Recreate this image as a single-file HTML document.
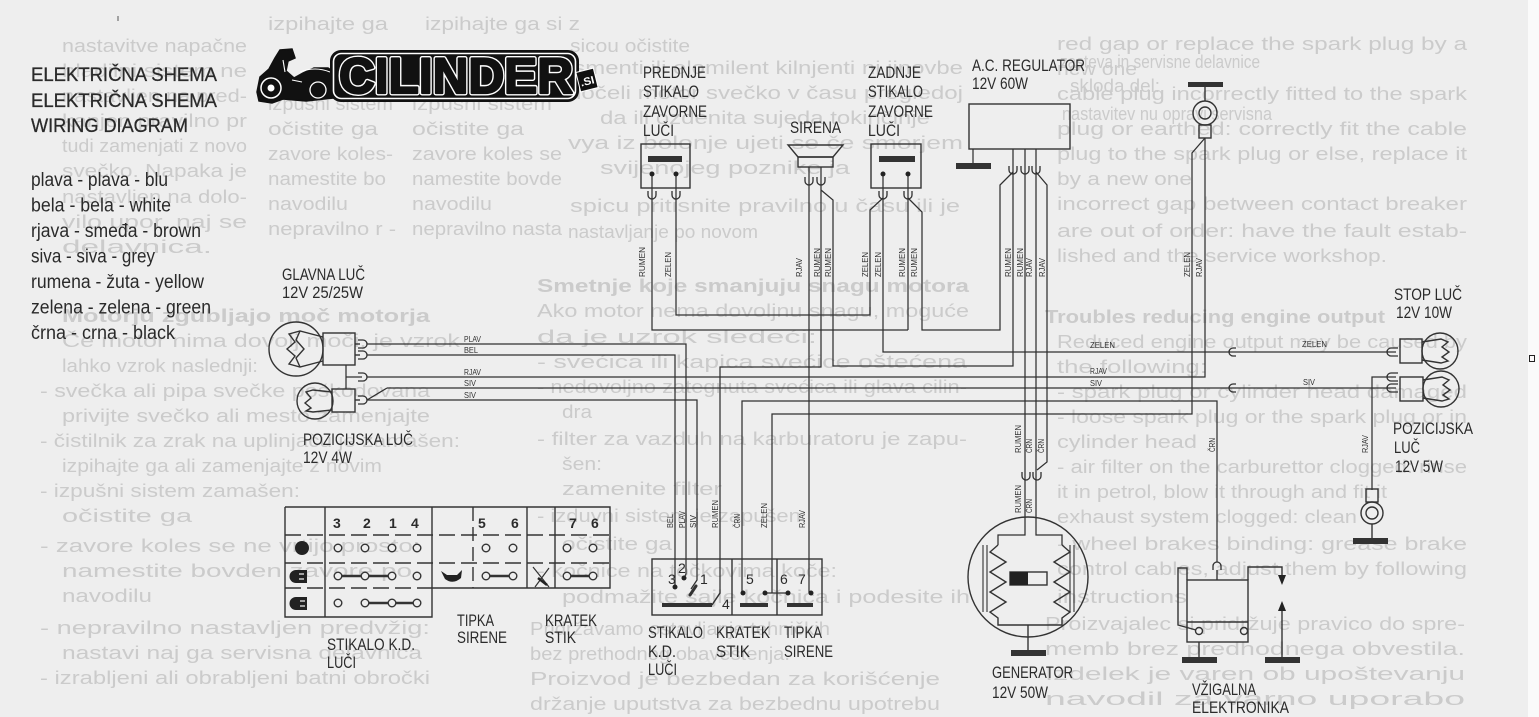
<!DOCTYPE html>
<html><head><meta charset="utf-8">
<style>
html,body{margin:0;padding:0;background:#eeeeee;}
svg{display:block;}
text{font-family:"Liberation Sans",sans-serif;}
.bl{fill:#cbcbcb;font-size:18px;}
.lb{fill:#2b2b2b;font-size:16.5px;}
.sm{fill:#333;font-size:8.5px;}
.w{fill:none;stroke:#303030;stroke-width:1.25;}
.bx{fill:none;stroke:#333;stroke-width:1.4;}
.nm{fill:#2b2b2b;font-size:14px;font-weight:bold;}
</style></head><body>
<svg width="1539" height="717" viewBox="0 0 1539 717" xmlns="http://www.w3.org/2000/svg">
<rect width="1539" height="717" fill="#eeeeee"/>
<rect x="1528" y="0" width="11" height="717" fill="#fafafa"/>
<rect x="1529.5" y="355.5" width="5" height="6" fill="none" stroke="#222" stroke-width="1"/>

<!-- bleed-through text -->
<g class="bl">
<text x="62" y="52" textLength="185" lengthAdjust="spacingAndGlyphs">nastavitve napačne</text>
<text x="62" y="77" textLength="185" lengthAdjust="spacingAndGlyphs">hladilni sistem ne</text>
<text x="62" y="102" textLength="185" lengthAdjust="spacingAndGlyphs">nastavljen na pred-</text>
<text x="62" y="127" textLength="185" lengthAdjust="spacingAndGlyphs">kanjen pravilno pr</text>
<text x="62" y="152" textLength="185" lengthAdjust="spacingAndGlyphs">tudi zamenjati z novo</text>
<text x="62" y="177" textLength="185" lengthAdjust="spacingAndGlyphs">svečko. Napaka je</text>
<text x="62" y="203" textLength="185" lengthAdjust="spacingAndGlyphs">nastavljen na dolo-</text>
<text x="62" y="228" textLength="185" lengthAdjust="spacingAndGlyphs">vilo upor. naj se</text>
<text x="62" y="253" textLength="150" lengthAdjust="spacingAndGlyphs">delavnica.</text>
<text x="62" y="322" font-weight="bold" textLength="368" lengthAdjust="spacingAndGlyphs">Motorju zgubljajo moč motorja</text>
<text x="62" y="347" textLength="398" lengthAdjust="spacingAndGlyphs">Če motor nima dovolj moči, je vzrok</text>
<text x="62" y="372" textLength="196" lengthAdjust="spacingAndGlyphs">lahko vzrok naslednji:</text>
<text x="40" y="397" textLength="390" lengthAdjust="spacingAndGlyphs">- svečka ali pipa svečke poškodovana</text>
<text x="62" y="422" textLength="368" lengthAdjust="spacingAndGlyphs">privijte svečko ali mesto zamenjajte</text>
<text x="40" y="447" textLength="420" lengthAdjust="spacingAndGlyphs">- čistilnik za zrak na uplinjaču je zamašen:</text>
<text x="62" y="472" textLength="320" lengthAdjust="spacingAndGlyphs">izpihajte ga ali zamenjajte z novim</text>
<text x="40" y="497" textLength="260" lengthAdjust="spacingAndGlyphs">- izpušni sistem zamašen:</text>
<text x="62" y="522" textLength="130" lengthAdjust="spacingAndGlyphs">očistite ga</text>
<text x="40" y="552" textLength="380" lengthAdjust="spacingAndGlyphs">- zavore koles se ne vrtijo prosto:</text>
<text x="62" y="577" textLength="350" lengthAdjust="spacingAndGlyphs">namestite bovden zavore po</text>
<text x="62" y="602" textLength="90" lengthAdjust="spacingAndGlyphs">navodilu</text>
<text x="40" y="634" textLength="390" lengthAdjust="spacingAndGlyphs">- nepravilno nastavljen predvžig:</text>
<text x="62" y="659" textLength="360" lengthAdjust="spacingAndGlyphs">nastavi naj ga servisna delavnica</text>
<text x="40" y="684" textLength="390" lengthAdjust="spacingAndGlyphs">- izrabljeni ali obrabljeni batni obročki</text>

<text x="268" y="30" textLength="120" lengthAdjust="spacingAndGlyphs">izpihajte ga</text>
<text x="268" y="110" textLength="125" lengthAdjust="spacingAndGlyphs">izpušni sistem</text>
<text x="268" y="135" textLength="110" lengthAdjust="spacingAndGlyphs">očistite ga</text>
<text x="268" y="160" textLength="125" lengthAdjust="spacingAndGlyphs">zavore koles-</text>
<text x="268" y="185" textLength="118" lengthAdjust="spacingAndGlyphs">namestite bo</text>
<text x="268" y="210" textLength="80" lengthAdjust="spacingAndGlyphs">navodilu</text>
<text x="268" y="235" textLength="128" lengthAdjust="spacingAndGlyphs">nepravilno r -</text>
<text x="425" y="30" textLength="155" lengthAdjust="spacingAndGlyphs">izpihajte ga si z</text>
<text x="412" y="110" textLength="140" lengthAdjust="spacingAndGlyphs">izpušni sistem</text>
<text x="412" y="135" textLength="112" lengthAdjust="spacingAndGlyphs">očistite ga</text>
<text x="412" y="160" textLength="150" lengthAdjust="spacingAndGlyphs">zavore koles se</text>
<text x="412" y="185" textLength="150" lengthAdjust="spacingAndGlyphs">namestite bovde</text>
<text x="412" y="210" textLength="80" lengthAdjust="spacingAndGlyphs">navodilu</text>
<text x="412" y="235" textLength="150" lengthAdjust="spacingAndGlyphs">nepravilno nasta</text>

<text x="570" y="52" textLength="120" lengthAdjust="spacingAndGlyphs">sicou očistite</text>
<text x="568" y="74" textLength="395" lengthAdjust="spacingAndGlyphs">ismenti ili elomilent kilnjenti ni jinovbe</text>
<text x="568" y="99" textLength="395" lengthAdjust="spacingAndGlyphs">dočeli motor svečko v času pregledoj</text>
<text x="600" y="124" textLength="330" lengthAdjust="spacingAndGlyphs">da ili ozdenita sujeda tokinčinje</text>
<text x="568" y="149" textLength="395" lengthAdjust="spacingAndGlyphs">vya iz bolonje ujeti se če smorjem</text>
<text x="600" y="174" textLength="250" lengthAdjust="spacingAndGlyphs">svijenojeg poznike ja</text>
<text x="570" y="212" textLength="390" lengthAdjust="spacingAndGlyphs">spicu pritisnite pravilno u času ili je</text>
<text x="568" y="238" textLength="190" lengthAdjust="spacingAndGlyphs">nastavljanje po novom</text>
<text x="1060" y="68" textLength="200" lengthAdjust="spacingAndGlyphs">zasteva in servisne delavnice</text>
<text x="1070" y="92" textLength="90" lengthAdjust="spacingAndGlyphs">skloda del:</text>
<text x="1062" y="120" textLength="210" lengthAdjust="spacingAndGlyphs">nastavitev nu opravi servisna</text>

<text x="537" y="292" font-weight="bold" textLength="432" lengthAdjust="spacingAndGlyphs">Smetnje koje smanjuju snagu motora</text>
<text x="537" y="317" textLength="432" lengthAdjust="spacingAndGlyphs">Ako motor nema dovoljnu snagu, moguće</text>
<text x="537" y="343" textLength="280" lengthAdjust="spacingAndGlyphs">da je uzrok sledeći:</text>
<text x="537" y="368" textLength="430" lengthAdjust="spacingAndGlyphs">- svećica ili kapica svećice oštećena</text>
<text x="537" y="393" textLength="430" lengthAdjust="spacingAndGlyphs">- nedovoljno zategnuta svećica ili glava cilin-</text>
<text x="562" y="418" textLength="30" lengthAdjust="spacingAndGlyphs">dra</text>
<text x="537" y="445" textLength="430" lengthAdjust="spacingAndGlyphs">- filter za vazduh na karburatoru je zapu-</text>
<text x="562" y="470" textLength="40" lengthAdjust="spacingAndGlyphs">šen:</text>
<text x="562" y="495" textLength="160" lengthAdjust="spacingAndGlyphs">zamenite filter</text>
<text x="537" y="522" textLength="270" lengthAdjust="spacingAndGlyphs">- izduvni sistem je zapušen:</text>
<text x="562" y="550" textLength="110" lengthAdjust="spacingAndGlyphs">očistite ga</text>
<text x="537" y="577" textLength="300" lengthAdjust="spacingAndGlyphs">- kočnice na točkovima koče:</text>
<text x="562" y="603" textLength="408" lengthAdjust="spacingAndGlyphs">podmažite sajle kočnica i podesite ih</text>
<text x="530" y="635" textLength="300" lengthAdjust="spacingAndGlyphs">Pridržavamo ostavljanje tehničkih</text>
<text x="530" y="660" textLength="260" lengthAdjust="spacingAndGlyphs">bez prethodnog obaveštenja.</text>
<text x="530" y="685" textLength="410" lengthAdjust="spacingAndGlyphs">Proizvod je bezbedan za korišćenje</text>
<text x="530" y="710" textLength="410" lengthAdjust="spacingAndGlyphs">držanje uputstva za bezbednu upotrebu</text>

<text x="1057" y="50" textLength="410" lengthAdjust="spacingAndGlyphs">red gap or replace the spark plug by a</text>
<text x="1057" y="75" textLength="80" lengthAdjust="spacingAndGlyphs">new one</text>
<text x="1057" y="100" textLength="410" lengthAdjust="spacingAndGlyphs">cable plug incorrectly fitted to the spark</text>
<text x="1057" y="135" textLength="410" lengthAdjust="spacingAndGlyphs">plug or earthed: correctly fit the cable</text>
<text x="1057" y="160" textLength="410" lengthAdjust="spacingAndGlyphs">plug to the spark plug or else, replace it</text>
<text x="1057" y="185" textLength="135" lengthAdjust="spacingAndGlyphs">by a new one</text>
<text x="1057" y="210" textLength="410" lengthAdjust="spacingAndGlyphs">incorrect gap between contact breaker</text>
<text x="1057" y="237" textLength="410" lengthAdjust="spacingAndGlyphs">are out of order: have the fault estab-</text>
<text x="1057" y="262" textLength="330" lengthAdjust="spacingAndGlyphs">lished and the service workshop.</text>
<text x="1045" y="323" font-weight="bold" textLength="340" lengthAdjust="spacingAndGlyphs">Troubles reducing engine output</text>
<text x="1057" y="348" textLength="410" lengthAdjust="spacingAndGlyphs">Reduced engine output may be caused by</text>
<text x="1057" y="373" textLength="150" lengthAdjust="spacingAndGlyphs">the following:</text>
<text x="1057" y="398" textLength="410" lengthAdjust="spacingAndGlyphs">- spark plug or cylinder head damaged</text>
<text x="1057" y="423" textLength="410" lengthAdjust="spacingAndGlyphs">- loose spark plug or the spark plug or in</text>
<text x="1057" y="448" textLength="140" lengthAdjust="spacingAndGlyphs">cylinder head</text>
<text x="1057" y="473" textLength="410" lengthAdjust="spacingAndGlyphs">- air filter on the carburettor clogged: rinse</text>
<text x="1057" y="498" textLength="330" lengthAdjust="spacingAndGlyphs">it in petrol, blow it through and fit it</text>
<text x="1057" y="523" textLength="300" lengthAdjust="spacingAndGlyphs">exhaust system clogged: clean</text>
<text x="1057" y="550" textLength="410" lengthAdjust="spacingAndGlyphs">- wheel brakes binding: grease brake</text>
<text x="1057" y="575" textLength="410" lengthAdjust="spacingAndGlyphs">control cables, adjust them by following</text>
<text x="1057" y="603" textLength="130" lengthAdjust="spacingAndGlyphs">instructions</text>
<text x="1045" y="630" textLength="420" lengthAdjust="spacingAndGlyphs">Proizvajalec si pridržuje pravico do spre-</text>
<text x="1045" y="655" textLength="420" lengthAdjust="spacingAndGlyphs">memb brez predhodnega obvestila.</text>
<text x="1045" y="680" textLength="420" lengthAdjust="spacingAndGlyphs">Izdelek je varen ob upoštevanju</text>
<text x="1045" y="705" textLength="420" lengthAdjust="spacingAndGlyphs">navodil za varno uporabo</text>
</g>

<!-- title & legend -->
<g fill="#2a2a2a" stroke="#2a2a2a" stroke-width="0.3">
<text x="31" y="81" font-size="19" textLength="186" lengthAdjust="spacingAndGlyphs">ELEKTRIČNA SHEMA</text>
<text x="31" y="107" font-size="19" textLength="186" lengthAdjust="spacingAndGlyphs">ELEKTRIČNA SHEMA</text>
<text x="31" y="132" font-size="19" textLength="157" lengthAdjust="spacingAndGlyphs">WIRING DIAGRAM</text>
</g>
<g fill="#2a2a2a" font-size="19">
<text x="31" y="186" textLength="137" lengthAdjust="spacingAndGlyphs">plava - plava - blu</text>
<text x="31" y="211.5" textLength="140" lengthAdjust="spacingAndGlyphs">bela - bela - white</text>
<text x="31" y="237" textLength="170" lengthAdjust="spacingAndGlyphs">rjava - smeđa - brown</text>
<text x="31" y="262.5" textLength="124" lengthAdjust="spacingAndGlyphs">siva - siva - grey</text>
<text x="31" y="288" textLength="173" lengthAdjust="spacingAndGlyphs">rumena - žuta - yellow</text>
<text x="31" y="313.5" textLength="180" lengthAdjust="spacingAndGlyphs">zelena - zelena - green</text>
<text x="31" y="339" textLength="144" lengthAdjust="spacingAndGlyphs">črna - crna - black</text>
</g>
<line x1="118" y1="16" x2="118" y2="21" stroke="#555" stroke-width="1"/>

<!-- logo -->
<g>
<path d="M257,92 L260,77 L269,69 L275,58 L280,50 L292,49 L295,58 L288,61 L286,71 L294,78 L303,73 L314,68 L328,68 L337,74 L339,88 L333,98 L306,101 L283,99 L272,103 L259,101 Z" fill="#111" stroke="#111" stroke-width="1.5"/>
<circle cx="271" cy="88" r="10" fill="#111" stroke="#fff" stroke-width="1.5"/>
<circle cx="271" cy="88" r="3.5" fill="#fff"/>
<circle cx="318" cy="90" r="8" fill="#111" stroke="#fff" stroke-width="1.3"/>
<path d="M283,60 L285,72 M292,80 L302,82 M300,72 Q315,66 330,72" stroke="#fff" stroke-width="1.1" fill="none"/>
<rect x="330" y="50" width="249" height="52" rx="11" fill="#111"/>
<rect x="333.5" y="53.5" width="242" height="45" rx="8" fill="none" stroke="#fff" stroke-width="1.6"/>
<text x="339" y="93" font-size="50" font-weight="bold" fill="#fff" stroke="#fff" stroke-width="5" stroke-linejoin="round" textLength="234" lengthAdjust="spacingAndGlyphs">CILINDER</text>
<text x="339" y="93" font-size="50" font-weight="bold" fill="#111" stroke="#111" stroke-width="2.2" stroke-linejoin="round" textLength="234" lengthAdjust="spacingAndGlyphs">CILINDER</text>
<g transform="translate(587,80) rotate(-14)">
<rect x="-9" y="-10" width="18" height="20" fill="#111" stroke="#fff" stroke-width="1"/>
<text x="-7" y="5" font-size="11" font-weight="bold" fill="#fff" textLength="14" lengthAdjust="spacingAndGlyphs">.SI</text>
</g>
</g>

<!-- component labels -->
<g class="lb">
<text x="282" y="280" textLength="83" lengthAdjust="spacingAndGlyphs">GLAVNA LUČ</text>
<text x="282" y="298" textLength="81" lengthAdjust="spacingAndGlyphs">12V 25/25W</text>
<text x="303" y="445" textLength="110" lengthAdjust="spacingAndGlyphs">POZICIJSKA LUČ</text>
<text x="303" y="463" textLength="49" lengthAdjust="spacingAndGlyphs">12V 4W</text>
<text x="643" y="78" textLength="63" lengthAdjust="spacingAndGlyphs">PREDNJE</text>
<text x="643" y="97" textLength="56" lengthAdjust="spacingAndGlyphs">STIKALO</text>
<text x="643" y="117" textLength="64" lengthAdjust="spacingAndGlyphs">ZAVORNE</text>
<text x="643" y="136" textLength="31" lengthAdjust="spacingAndGlyphs">LUČI</text>
<text x="790" y="133" textLength="51" lengthAdjust="spacingAndGlyphs">SIRENA</text>
<text x="868" y="78" textLength="53" lengthAdjust="spacingAndGlyphs">ZADNJE</text>
<text x="868" y="97" textLength="55" lengthAdjust="spacingAndGlyphs">STIKALO</text>
<text x="868" y="117" textLength="65" lengthAdjust="spacingAndGlyphs">ZAVORNE</text>
<text x="868" y="136" textLength="32" lengthAdjust="spacingAndGlyphs">LUČI</text>
<text x="972" y="71" textLength="113" lengthAdjust="spacingAndGlyphs">A.C. REGULATOR</text>
<text x="972" y="89" textLength="56" lengthAdjust="spacingAndGlyphs">12V 60W</text>
<text x="1394" y="300" textLength="68" lengthAdjust="spacingAndGlyphs">STOP LUČ</text>
<text x="1396" y="318" textLength="56" lengthAdjust="spacingAndGlyphs">12V 10W</text>
<text x="1393" y="434" textLength="80" lengthAdjust="spacingAndGlyphs">POZICIJSKA</text>
<text x="1394" y="453" textLength="26" lengthAdjust="spacingAndGlyphs">LUČ</text>
<text x="1395" y="472" textLength="48" lengthAdjust="spacingAndGlyphs">12V 5W</text>
<text x="1192" y="695" textLength="64" lengthAdjust="spacingAndGlyphs">VŽIGALNA</text>
<text x="1192" y="713" textLength="97" lengthAdjust="spacingAndGlyphs">ELEKTRONIKA</text>
<text x="992" y="678" textLength="81" lengthAdjust="spacingAndGlyphs">GENERATOR</text>
<text x="992" y="698" textLength="56" lengthAdjust="spacingAndGlyphs">12V 50W</text>
<text x="648" y="638" textLength="55" lengthAdjust="spacingAndGlyphs">STIKALO</text>
<text x="648" y="657" textLength="28" lengthAdjust="spacingAndGlyphs">K.D.</text>
<text x="648" y="675" textLength="29" lengthAdjust="spacingAndGlyphs">LUČI</text>
<text x="716" y="638" textLength="54" lengthAdjust="spacingAndGlyphs">KRATEK</text>
<text x="716" y="657" textLength="34" lengthAdjust="spacingAndGlyphs">STIK</text>
<text x="784" y="638" textLength="38" lengthAdjust="spacingAndGlyphs">TIPKA</text>
<text x="784" y="657" textLength="49" lengthAdjust="spacingAndGlyphs">SIRENE</text>
<text x="327" y="650" textLength="88" lengthAdjust="spacingAndGlyphs">STIKALO K.D.</text>
<text x="327" y="668" textLength="29" lengthAdjust="spacingAndGlyphs">LUČI</text>
<text x="457" y="626" textLength="37" lengthAdjust="spacingAndGlyphs">TIPKA</text>
<text x="457" y="643" textLength="50" lengthAdjust="spacingAndGlyphs">SIRENE</text>
<text x="545" y="626" textLength="52" lengthAdjust="spacingAndGlyphs">KRATEK</text>
<text x="545" y="643" textLength="31" lengthAdjust="spacingAndGlyphs">STIK</text>
</g>

<!-- horizontal small wire labels -->
<g class="sm">
<text x="464" y="342" textLength="17" lengthAdjust="spacingAndGlyphs">PLAV</text>
<text x="464" y="353" textLength="14" lengthAdjust="spacingAndGlyphs">BEL</text>
<text x="464" y="375" textLength="17" lengthAdjust="spacingAndGlyphs">RJAV</text>
<text x="464" y="386" textLength="12" lengthAdjust="spacingAndGlyphs">SIV</text>
<text x="464" y="398" textLength="12" lengthAdjust="spacingAndGlyphs">SIV</text>
<text x="1090" y="348" textLength="25" lengthAdjust="spacingAndGlyphs">ZELEN</text>
<text x="1090" y="374" textLength="17" lengthAdjust="spacingAndGlyphs">RJAV</text>
<text x="1090" y="386" textLength="12" lengthAdjust="spacingAndGlyphs">SIV</text>
<text x="1302" y="347" textLength="25" lengthAdjust="spacingAndGlyphs">ZELEN</text>
<text x="1303" y="385" textLength="12" lengthAdjust="spacingAndGlyphs">SIV</text>
</g>

<!-- vertical small wire labels -->
<g class="sm">
<text transform="translate(645,277) rotate(-90)" textLength="30" lengthAdjust="spacingAndGlyphs">RUMEN</text>
<text transform="translate(671,277) rotate(-90)" textLength="25" lengthAdjust="spacingAndGlyphs">ZELEN</text>
<text transform="translate(802,277) rotate(-90)" textLength="19" lengthAdjust="spacingAndGlyphs">RJAV</text>
<text transform="translate(820,277) rotate(-90)" textLength="29" lengthAdjust="spacingAndGlyphs">RUMEN</text>
<text transform="translate(831,277) rotate(-90)" textLength="29" lengthAdjust="spacingAndGlyphs">RUMEN</text>
<text transform="translate(868,277) rotate(-90)" textLength="25" lengthAdjust="spacingAndGlyphs">ZELEN</text>
<text transform="translate(881,277) rotate(-90)" textLength="25" lengthAdjust="spacingAndGlyphs">ZELEN</text>
<text transform="translate(905,277) rotate(-90)" textLength="29" lengthAdjust="spacingAndGlyphs">RUMEN</text>
<text transform="translate(917,277) rotate(-90)" textLength="29" lengthAdjust="spacingAndGlyphs">RUMEN</text>
<text transform="translate(1011,277) rotate(-90)" textLength="29" lengthAdjust="spacingAndGlyphs">RUMEN</text>
<text transform="translate(1023,277) rotate(-90)" textLength="29" lengthAdjust="spacingAndGlyphs">RUMEN</text>
<text transform="translate(1032,277) rotate(-90)" textLength="19" lengthAdjust="spacingAndGlyphs">RJAV</text>
<text transform="translate(1045,277) rotate(-90)" textLength="19" lengthAdjust="spacingAndGlyphs">RJAV</text>
<text transform="translate(1190,277) rotate(-90)" textLength="25" lengthAdjust="spacingAndGlyphs">ZELEN</text>
<text transform="translate(1202,277) rotate(-90)" textLength="19" lengthAdjust="spacingAndGlyphs">RJAV</text>
<text transform="translate(673,528) rotate(-90)" textLength="14" lengthAdjust="spacingAndGlyphs">BEL</text>
<text transform="translate(685,528) rotate(-90)" textLength="17" lengthAdjust="spacingAndGlyphs">PLAV</text>
<text transform="translate(696,528) rotate(-90)" textLength="13" lengthAdjust="spacingAndGlyphs">SIV</text>
<text transform="translate(718,528) rotate(-90)" textLength="28" lengthAdjust="spacingAndGlyphs">RUMEN</text>
<text transform="translate(740,528) rotate(-90)" textLength="14" lengthAdjust="spacingAndGlyphs">ČRN</text>
<text transform="translate(767,528) rotate(-90)" textLength="25" lengthAdjust="spacingAndGlyphs">ZELEN</text>
<text transform="translate(805,528) rotate(-90)" textLength="18" lengthAdjust="spacingAndGlyphs">RJAV</text>
<text transform="translate(1021,453) rotate(-90)" textLength="28" lengthAdjust="spacingAndGlyphs">RUMEN</text>
<text transform="translate(1032,453) rotate(-90)" textLength="14" lengthAdjust="spacingAndGlyphs">ČRN</text>
<text transform="translate(1044,453) rotate(-90)" textLength="14" lengthAdjust="spacingAndGlyphs">ČRN</text>
<text transform="translate(1021,513) rotate(-90)" textLength="28" lengthAdjust="spacingAndGlyphs">RUMEN</text>
<text transform="translate(1032,513) rotate(-90)" textLength="14" lengthAdjust="spacingAndGlyphs">ČRN</text>
<text transform="translate(1215,452) rotate(-90)" textLength="14" lengthAdjust="spacingAndGlyphs">ČRN</text>
<text transform="translate(1368,453) rotate(-90)" textLength="18" lengthAdjust="spacingAndGlyphs">RJAV</text>
</g>

<!-- WIRES -->
<g class="w">
<path d="M652,174 V330 H908"/>
<path d="M676,174 V315 H870 V210 L883,198"/>
<path d="M883,174 V352 H1396"/>
<path d="M908,174 V330"/>
<path d="M908,198 L922,212 V330 H1000 V185 L1013,172"/>
<path d="M809,167 V593"/>
<path d="M821,167 V367 H720 V593 L712,605"/>
<path d="M821,190 L833,200 V366 H1013 V149"/>
<path d="M1025,149 V535 H998 V545"/>
<path d="M1036,149 V535 H1062 V545"/>
<path d="M1036,172 L1047,185 V462 L1037,470"/>
<path d="M367,377 H1205 V138"/>
<path d="M387,388 H1396"/>
<path d="M367,400 L387,388"/>
<path d="M367,400 H697 V580 L691,589"/>
<path d="M367,344 H686 V574 L684,578"/>
<path d="M367,355 H675 V587"/>
<path d="M742,593 V401 H1217 V562"/>
<path d="M772,593 V414 H1192 V153 L1205,138"/>
<path d="M765,593 H788"/>
<path d="M346,365 V389 M346,377 H362"/>
<path d="M1396,377 H1372 V490"/>
</g>

<!-- connectors -->
<g fill="none" stroke="#303030" stroke-width="1.3">
<path d="M648,191 V195 A4,4 0 0 0 656,195 V191"/>
<path d="M672,191 V195 A4,4 0 0 0 680,195 V191"/>
<path d="M879,191 V195 A4,4 0 0 0 887,195 V191"/>
<path d="M904,191 V195 A4,4 0 0 0 912,195 V191"/>
<path d="M805,177 V181 A4,4 0 0 0 813,181 V177"/>
<path d="M817,177 V181 A4,4 0 0 0 825,181 V177"/>
<path d="M1009,166 V170 A4,4 0 0 0 1017,170 V166"/>
<path d="M1021,166 V170 A4,4 0 0 0 1029,170 V166"/>
<path d="M1032,166 V170 A4,4 0 0 0 1040,170 V166"/>
<path d="M1022,472 V476 A4,4 0 0 0 1030,476 V472"/>
<path d="M1033,472 V476 A4,4 0 0 0 1041,476 V472"/>
<path d="M1213,570 V566 A4,4 0 0 1 1221,566 V570"/>
<path d="M358,340 H363 A4,4 0 0 1 363,348 H358"/>
<path d="M358,351 H363 A4,4 0 0 1 363,359 H358"/>
<path d="M358,373 H363 A4,4 0 0 1 363,381 H358"/>
<path d="M358,396 H363 A4,4 0 0 1 363,404 H358"/>
<path d="M1236,348 H1233 A4,4 0 0 0 1233,356 H1236"/>
<path d="M1236,384 H1233 A4,4 0 0 0 1233,392 H1236"/>
<path d="M1398,348 H1391 A4,4 0 0 0 1391,356 H1398"/>
<path d="M1398,373 H1391 A4,4 0 0 0 1391,381 H1398"/>
<path d="M1398,384 H1391 A4,4 0 0 0 1391,392 H1398"/>
</g>

<!-- headlight & position bulbs (front) -->
<g class="bx">
<circle cx="296" cy="349" r="27"/>
<rect x="323" y="333" width="32" height="32"/>
<path d="M323,337 L300,331 L289,334 L295,342 L287,349 L295,356 L289,364 L300,367 L323,361"/>
<path d="M300,331 L296,340 L304,349 L296,358 L300,367"/>
<line x1="355" y1="344" x2="360" y2="344"/><line x1="355" y1="355" x2="360" y2="355"/>
<circle cx="315" cy="401" r="18"/>
<rect x="332" y="389" width="23" height="23"/>
<path d="M332,392 L313,390 L306,392 L311,398 L305,403 L311,408 L306,411 L313,412 L332,410"/>
<line x1="355" y1="400" x2="360" y2="400"/>
</g>

<!-- brake switches -->
<g>
<rect x="641" y="144" width="49" height="44" class="bx"/>
<rect x="648" y="156" width="34" height="6" fill="#333"/>
<circle cx="652" cy="174" r="2.5" fill="#222"/><circle cx="676" cy="174" r="2.5" fill="#222"/>
<rect x="871" y="144" width="50" height="44" class="bx"/>
<rect x="879" y="156" width="36" height="6" fill="#333"/>
<circle cx="883" cy="174" r="2.5" fill="#222"/><circle cx="908" cy="174" r="2.5" fill="#222"/>
</g>

<!-- siren -->
<g class="bx">
<path d="M788,145 H843 L833,157 H798 Z"/>
<rect x="798" y="157" width="35" height="10"/>
</g>

<!-- regulator -->
<rect x="969" y="104" width="101" height="45" class="bx"/>
<path d="M973,149 V164" class="w"/>
<rect x="956" y="163" width="35" height="6" fill="#333"/>

<!-- top right plug -->
<rect x="1188" y="82" width="35" height="5" fill="#333"/>
<g class="bx">
<path d="M1205,87 V101"/>
<circle cx="1205" cy="113" r="12"/>
<circle cx="1205" cy="113" r="6"/>
<rect x="1199" y="125" width="12" height="13"/>
</g>

<!-- rear bulbs -->
<g class="bx">
<circle cx="1440" cy="351" r="18"/>
<rect x="1400" y="339" width="22" height="24"/>
<path d="M1422,342 L1441,339 L1448,342 L1442,347 L1449,352 L1442,357 L1448,361 L1441,363 L1422,360"/>
<circle cx="1441" cy="389" r="18"/>
<rect x="1400" y="377" width="23" height="24"/>
<path d="M1423,380 L1442,377 L1449,380 L1443,385 L1450,390 L1443,395 L1449,399 L1442,401 L1423,398"/>
</g>

<!-- lower right lamp -->
<g class="bx">
<rect x="1366" y="489" width="12" height="13"/>
<circle cx="1372" cy="513" r="11"/>
<circle cx="1372" cy="513" r="6"/>
<path d="M1372,524 V538"/>
</g>
<rect x="1353" y="538" width="35" height="6" fill="#333"/>

<!-- generator -->
<g class="bx">
<circle cx="1028" cy="577" r="60"/>
<path d="M998,545 L990,552 L1006,562 L990,572 L1006,582 L990,592 L1006,602 L990,612 L998,618 V625 H1062 V618 L1070,612 L1054,602 L1070,592 L1054,582 L1070,572 L1054,562 L1070,552 L1062,545"/>
<path d="M983,545 V612 M987,545 V612 M1070,545 V612 M1074,545 V612" stroke-width="1.1"/>
<rect x="1010" y="572" width="37" height="13"/>
<path d="M1028,625 V652"/>
</g>
<rect x="1010" y="572" width="18" height="13" fill="#222"/>
<rect x="1011" y="650" width="35" height="6" fill="#333"/>

<!-- ignition electronics -->
<g class="bx">
<rect x="1187" y="580" width="61" height="62"/>
<path d="M1187,622 H1248"/>
<circle cx="1199" cy="631" r="3.5"/>
<circle cx="1244" cy="631" r="3.5"/>
<path d="M1187,580 V568 H1178 V625 L1196,630"/>
<path d="M1217,570 V580"/>
<path d="M1248,580 V567 H1282 V576"/>
<path d="M1282,610 V658"/>
<path d="M1199,642 V657"/>
</g>
<polygon points="1278,575 1286,575 1282,585" fill="#222"/>
<polygon points="1278,611 1286,611 1282,601" fill="#222"/>
<rect x="1182" y="657" width="35" height="6" fill="#333"/>
<rect x="1265" y="657" width="35" height="6" fill="#333"/>

<!-- bottom middle switch group -->
<g class="bx">
<rect x="652" y="559" width="170" height="56"/>
<path d="M732,559 V615 M777,559 V615"/>
</g>
<g>
<rect x="662" y="603" width="50" height="4" fill="#333"/>
<path d="M712,605 L720,593" stroke="#333" stroke-width="1.3"/>
<path d="M690,595 L696,586" stroke="#333" stroke-width="3" stroke-linecap="round"/>
<circle cx="675" cy="587" r="2.5" fill="#222"/>
<circle cx="684" cy="578" r="2.5" fill="#222"/>
<rect x="740" y="603" width="28" height="4" fill="#333"/>
<rect x="787" y="603" width="26" height="4" fill="#333"/>
<circle cx="743" cy="593" r="2.5" fill="#222"/>
<circle cx="765" cy="593" r="2.5" fill="#222"/>
<circle cx="788" cy="593" r="2.5" fill="#222"/>
<circle cx="811" cy="593" r="2.5" fill="#222"/>
<g fill="#2b2b2b" font-size="14">
<text x="668" y="584">3</text><text x="678" y="573">2</text><text x="700" y="584">1</text><text x="722" y="609">4</text>
<text x="746" y="584">5</text><text x="780" y="584">6</text><text x="798" y="584">7</text>
</g>
</g>

<!-- left switch table -->
<g fill="none" stroke="#333" stroke-width="1.4">
<path d="M285,507 H610 V588 H432 M285,507 V617 H432 V507 M325,507 V617 M527,507 V588 M555,507 V588"/>
<path d="M473,507 V588" stroke-dasharray="14 6"/>
<path d="M285,535 H610 M285,563 H610 M285,588 H432" stroke-dasharray="16 6"/>
</g>
<g class="nm">
<text x="333" y="528">3</text><text x="363" y="528">2</text><text x="389" y="528">1</text><text x="411" y="528">4</text>
<text x="478" y="528">5</text><text x="511" y="528">6</text><text x="569" y="528">7</text><text x="591" y="528">6</text>
</g>
<circle cx="302" cy="548" r="7" fill="#222"/>
<path d="M296,570 H307 V583 H296 A6.5,6.5 0 0 1 296,570 Z" fill="#222"/>
<path d="M299,574 H304 M299,579 H304" stroke="#eee" stroke-width="1.2"/>
<path d="M296,597 H307 V610 H296 A6.5,6.5 0 0 1 296,597 Z" fill="#222"/>
<path d="M300,601 H305 M300,606 H305" stroke="#eee" stroke-width="1.2"/>
<path d="M441,571 L447,575 H457 L462,570 L461,578 Q453,585 445,579 Z" fill="#222"/>
<path d="M533,567 L549,587 M535,587 L549,568" stroke="#333" stroke-width="1.2"/>
<path d="M538,578 L547,585" stroke="#222" stroke-width="2.5"/>
<g stroke="#333" stroke-width="2.5">
<line x1="338" y1="576" x2="392" y2="576"/>
<line x1="365" y1="603" x2="417" y2="603"/>
<line x1="486" y1="576" x2="513" y2="576"/>
<line x1="567" y1="576" x2="593" y2="576"/>
</g>
<g fill="#eee" stroke="#333" stroke-width="1.4">
<circle cx="338" cy="548" r="3.8"/><circle cx="365" cy="548" r="3.8"/><circle cx="392" cy="548" r="3.8"/><circle cx="417" cy="548" r="3.8"/>
<circle cx="486" cy="548" r="3.8"/><circle cx="513" cy="548" r="3.8"/><circle cx="567" cy="548" r="3.8"/><circle cx="593" cy="548" r="3.8"/>
<circle cx="338" cy="576" r="3.8"/><circle cx="365" cy="576" r="3.8"/><circle cx="392" cy="576" r="3.8"/><circle cx="417" cy="576" r="3.8"/>
<circle cx="486" cy="576" r="3.8"/><circle cx="513" cy="576" r="3.8"/><circle cx="567" cy="576" r="3.8"/><circle cx="593" cy="576" r="3.8"/>
<circle cx="338" cy="603" r="3.8"/><circle cx="365" cy="603" r="3.8"/><circle cx="392" cy="603" r="3.8"/><circle cx="417" cy="603" r="3.8"/>
</g>
</svg>
</body></html>
